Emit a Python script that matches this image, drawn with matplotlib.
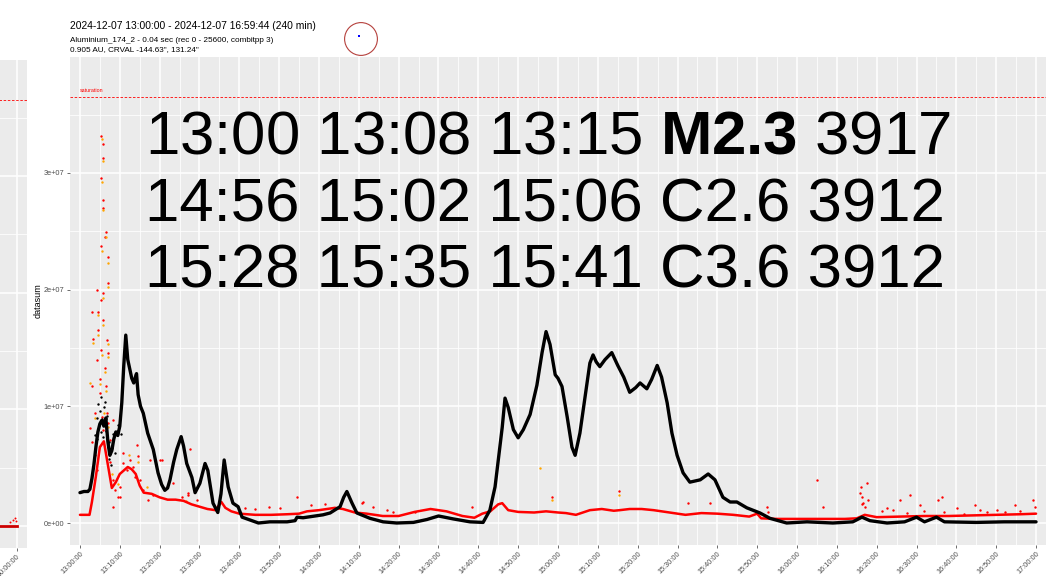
import numpy as np
import matplotlib.pyplot as plt
from matplotlib.patches import Circle
from matplotlib.ticker import MultipleLocator, FuncFormatter

plt.rcParams['font.family'] = ['Liberation Sans', 'DejaVu Sans']
plt.rcParams['mathtext.fontset'] = 'custom'
plt.rcParams['mathtext.rm'] = 'Liberation Sans'
plt.rcParams['mathtext.bf'] = 'Liberation Sans:bold'

# minutes after 13:00, datasum in units of 1e6
black_t = [0, 1, 2, 2.5, 3, 3.5, 4, 4.5, 5, 5.5, 6, 6.5, 7, 7.5, 8, 8.5, 9, 9.5, 10, 10.5,
           11, 11.5, 12, 12.5, 13, 13.5, 14, 14.2, 14.6, 15.2, 15.9, 17, 18.4, 19.6, 20.5, 21.3,
           22, 22.6, 23.5, 24.3, 25.4, 26, 26.8, 28.1, 28.9, 30.1, 31.4, 32.1, 33.4, 34.6, 35.4,
           36.2, 37.2, 38.4, 39.7, 40.7, 42.7, 44.8, 47.7, 52, 54, 54.5, 56, 61, 62.8, 65.3, 66.2,
           67, 68.3, 69.5, 72.8, 76.1, 79.5, 83.7, 87.1, 90, 93.7, 97.9, 101.2, 102.9, 104.2, 105,
           106, 106.7, 107.5, 108.8, 110, 111.3, 113, 114.7, 116, 117, 118, 119.3, 120, 121, 122.3,
           123.5, 124.3, 125.5, 126.8, 128, 128.8, 129.6, 130.5, 131.8, 133.5, 135, 136.5, 138,
           139.5, 140.6, 142.3, 143.5, 144.9, 146, 147.4, 148.6, 149.9, 151.4, 153.1, 155.7, 157.7,
           159.4, 161.4, 163.2, 164.9, 167.4, 170.7, 173.2, 177.4, 182.5, 189, 194, 196.3, 198.3,
           202.6, 207, 210, 212, 215, 217, 225, 232, 240]
black_v = [2.6, 2.7, 2.7, 2.9, 3.8, 5.0, 6.5, 7.8, 8.5, 8.8, 8.3, 9.0, 7.0, 5.8, 6.2, 7.2, 7.8, 7.5, 8.3, 10.3,
           13.5, 16.1, 14.0, 13.2, 12.4, 12.0, 12.6, 12.8, 11.0, 10.0, 9.4, 7.7, 6.3, 4.3, 3.3, 2.8,
           3.0, 3.7, 5.2, 6.3, 7.4, 6.6, 5.1, 3.9, 2.6, 3.4, 5.1, 4.5, 1.7, 0.9, 2.5,
           5.4, 3.1, 1.7, 1.4, 0.5, 0.26, 0.0, 0.1, 0.1, 0.2, 0.5, 0.45, 0.7, 0.86, 1.4, 2.2,
           2.7, 1.7, 0.86, 0.4, 0.1, 0.0, 0.05, 0.3, 0.6, 0.35, 0.1, 0.05, 1.1, 3.1, 5.4,
           8.2, 10.7, 9.9, 8.0, 7.3, 8.0, 9.3, 11.8, 14.6, 16.4, 15.3, 12.7, 12.4, 11.7, 9.1,
           6.5, 5.8, 7.7, 10.8, 13.7, 14.4, 13.8, 13.4, 14.0, 14.6, 13.5, 12.5, 11.2,
           11.6, 12.0, 11.5, 12.3, 13.5, 12.5, 10.3, 7.7, 5.8, 4.3, 3.5, 3.7, 4.2,
           3.7, 2.2, 1.8, 1.8, 1.3, 0.86, 0.4, 0.0, 0.1, 0.0, 0.1, 0.5, 0.2,
           0.0, 0.1, 0.5, 0.1, 0.5, 0.1, 0.05, 0.1, 0.1]

black_noise_t = [3.8, 4.2, 4.4, 4.6, 4.8, 5.0, 5.2, 5.4, 5.6, 5.8, 6.0, 6.2, 6.4, 6.6, 6.8,
                 7.0, 7.2, 7.4, 7.7, 8.0, 8.3, 8.7, 9.2, 9.6, 10.2]
black_noise_v = [7.5, 9.0, 7.2, 10.2, 8.4, 9.6, 7.8, 10.8, 8.9, 7.4, 9.9, 8.6, 10.4, 7.9, 9.2,
                 6.5, 5.5, 6.9, 5.0, 6.4, 7.6, 6.0, 7.9, 8.4, 7.6]

red_t = [0, 2.4, 3, 4, 5, 6, 7, 8, 9, 10, 11, 12, 13, 14, 15, 16, 18, 20, 22, 24, 26, 28, 30,
         32, 34, 35.5, 36.5, 38, 40, 44, 48, 52, 55, 57, 60, 62, 64, 66, 69, 72, 76, 80, 84, 88,
         92, 96, 99, 101, 103, 105, 106, 107.5, 110, 114, 117, 120, 122, 124.5, 128, 131, 134,
         135.5, 138, 141, 144, 148, 152, 156, 160, 164, 168, 170, 171, 175, 180, 186, 192, 195,
         197, 200, 206, 212, 218, 224, 230, 236, 240]
red_v = [0.7, 0.7, 1.8, 4.0, 6.5, 7.0, 5.0, 3.0, 3.5, 4.2, 4.5, 4.8, 4.6, 4.2, 3.2, 2.6, 2.5, 2.2, 2.0, 2.0, 1.9, 1.6, 1.4,
         1.2, 1.1, 1.8, 1.3, 1.0, 0.8, 0.7, 0.7, 0.75, 0.8, 1.0, 1.1, 1.2, 1.3, 1.2, 0.9, 0.8, 0.6, 0.6, 0.95, 1.2,
         1.0, 0.6, 0.45, 0.8, 1.0, 1.6, 1.7, 1.1, 0.95, 0.9, 1.0, 0.9, 0.85, 0.7, 1.1, 1.2, 1.05,
         1.1, 1.2, 1.2, 1.1, 0.9, 0.7, 0.85, 0.8, 0.7, 0.55, 0.8, 0.4, 0.35, 0.35, 0.35, 0.35, 0.4,
         0.7, 0.5, 0.55, 0.6, 0.6, 0.65, 0.7, 0.75, 0.8]

# scattered red points: flare burst, early cloud and later outliers
red_pts_t = [5.4, 5.8, 5.8, 5.4, 5.8, 5.8, 6.5, 6.2, 5.4, 7.0, 7.0, 4.4, 5.8, 5.2, 3.1, 4.5, 5.8,
             4.5, 3.2, 6.8, 7.0, 5.4, 4.2, 6.2, 2.9, 5.0, 6.5, 3.8, 8.3, 7.5, 10.8, 14.3, 17.6,
             20.6, 8.3, 10.0,
             2.5, 2.9, 3.8, 4.3, 5.0, 5.5, 5.8, 6.8, 7.0, 7.5, 8.3, 8.8, 9.5, 10.0, 10.8, 11.8,
             12.6, 13.3, 13.8, 14.6, 15.1, 15.8, 17.1, 18.3, 20.1, 21.8, 23.3, 25.6, 27.1, 27.6,
             29.4,
             27.1, 41.5, 44.0, 47.5, 50.2, 54.5, 58.0, 61.5, 70.8, 71.0, 73.5, 77.1, 78.6, 84.1,
             98.4, 118.5, 135.3, 152.7, 158.2, 172.5,
             172.6, 185.0, 186.6, 195.8, 196.0, 196.2, 196.3, 196.6, 197.0, 197.6, 197.8, 201.3,
             202.6, 204.0, 205.9, 207.6, 208.4, 210.9, 212.0, 215.4, 216.4, 217.0, 220.2, 222.0,
             224.7, 226.0, 227.7, 230.2, 232.3, 234.7, 236.0, 239.3, 239.8]
red_pts_v = [33.2, 32.5, 31.3, 29.6, 27.7, 27.0, 24.9, 24.5, 23.7, 22.8, 20.6, 20.0, 19.7, 19.1, 18.1, 18.1, 17.4,
             16.5, 15.8, 15.7, 14.6, 14.8, 14.0, 13.3, 11.7, 12.3, 11.7, 9.4, 8.8, 7.1, 6.0, 6.7, 5.4,
             5.4, 1.4, 2.2,
             8.1, 6.9, 5.8, 4.5, 11.1, 9.1, 8.0, 9.4, 8.6, 5.2, 3.7, 2.8, 2.2, 3.1, 5.1, 4.5,
             5.4, 4.8, 3.9, 5.7, 3.7, 2.8, 2.0, 2.4, 5.4, 3.1, 3.4, 2.2, 2.6, 6.3,
             2.0,
             2.4, 1.3, 1.2, 1.4, 1.3, 2.2, 1.5, 1.6, 1.7, 1.8, 1.4, 1.1, 0.94, 0.94,
             1.4, 2.2, 2.7, 1.7, 1.7, 1.4,
             0.9, 3.7, 1.4, 2.6, 3.1, 2.2, 1.6, 1.7, 1.4, 3.4, 2.0, 1.0,
             1.3, 1.1, 2.0, 0.86, 2.4, 1.5, 1.0, 2.0, 2.2, 0.9, 1.3, 0.8,
             1.5, 1.1, 0.9, 1.1, 0.9, 1.5, 1.0, 2.0, 1.4]

orange_t = [5.5, 5.9, 5.5, 5.9, 6.6, 5.5, 7.1, 7.1, 5.9, 4.6, 5.9, 4.6, 3.3, 7.1, 7.1, 5.5, 6.3,
            5.1, 6.6, 3.9, 2.6, 6.0, 7.0, 8.0, 9.6, 12.2, 14.6, 115.5, 118.5, 135.2, 26.5, 16.9]
orange_v = [32.9, 31.0, 29.2, 26.8, 24.5, 23.3, 22.3, 20.2, 19.3, 17.8, 17.0, 16.1, 15.4, 15.3, 14.2, 14.4, 12.9,
            11.9, 11.3, 9.0, 12.0, 9.4, 8.2, 4.2, 3.3, 5.8, 5.2, 4.7, 2.0, 2.4, 1.9, 3.1]

# earlier panel (only its last stretch is visible)
prev_line_t = [-317, 0]
prev_line_v = [0.0, 0.0]
prev_pts_t = [-7, -4.3, -2, -1]
prev_pts_v = [0.34, 0.5, 0.68, 0.43]

saturation = 36.5

W, H = 1050, 576
BG = '#EBEBEB'
TXT = '#4D4D4D'


def box(x0, y0, x1, y1):
    return [x0 / W, 1 - y1 / H, (x1 - x0) / W, (y1 - y0) / H]


def to_e6(vals):
    return np.array(vals) * 1e6


def clock(m, pos=None):
    m = int(round(m))
    return "%02d:%02d:00" % (13 + m // 60, m % 60)


def style_panel(ax):
    ax.set_facecolor(BG)
    for s in ax.spines.values():
        s.set_visible(False)
    ax.yaxis.set_major_locator(MultipleLocator(1e7))
    ax.yaxis.set_minor_locator(MultipleLocator(5e6))
    ax.grid(which='major', color='white', lw=1.1)
    ax.grid(which='minor', color='white', lw=0.55)
    ax.set_axisbelow(True)
    ax.tick_params(which='major', length=2.5, width=0.5, color='#333333', labelsize=5.3,
                   labelcolor=TXT, pad=1.5)
    ax.tick_params(which='minor', length=0)
    ax.set_ylim(-1.885e6, 3.993e7)


fig = plt.figure(figsize=(W / 100, H / 100), dpi=100)

# earlier panel at the left edge
axl = fig.add_axes(box(-300, 60, 27, 548))
style_panel(axl)
axl.set_xlim(-317, 10)
axl.set_xticks([0])
axl.set_xticklabels(['00:00:00'])
axl.set_yticklabels([])
axl.tick_params(axis='y', length=0)
plt.setp(axl.get_xticklabels(), rotation=45, ha='right', rotation_mode='anchor')
axl.axhline(saturation * 1e6, color='red', lw=0.6, ls=(0, (3, 2)))
axl.plot(prev_line_t, to_e6(prev_line_v), color='#CC0000', lw=2)
axl.scatter(prev_pts_t, to_e6(prev_pts_v), s=2, color='red', lw=0)

# main panel
ax = fig.add_axes(box(70, 57, 1046, 545))
style_panel(ax)
ax.set_xlim(-2.5, 242.5)
ax.xaxis.set_major_locator(MultipleLocator(10))
ax.xaxis.set_minor_locator(MultipleLocator(5))
ax.xaxis.set_major_formatter(FuncFormatter(clock))
ax.yaxis.set_major_formatter(FuncFormatter(lambda v, p: "%.0e" % v))
plt.setp(ax.get_xticklabels(), rotation=45, ha='right', rotation_mode='anchor')
ax.set_ylabel('datasum', fontsize=6.5, color='black', labelpad=1)

ax.axhline(saturation * 1e6, color='red', lw=0.6, ls=(0, (3, 2)))
ax.text(0, 36.9e6, 'saturation', color='red', fontsize=3.8, va='baseline')

ax.plot(red_t, to_e6(red_v), color='red', lw=1.8, solid_capstyle='round')
ax.scatter(red_pts_t, to_e6(red_pts_v), s=3, color='red', lw=0)
ax.scatter(orange_t, to_e6(orange_v), s=3, color='#FFA500', lw=0)
ax.plot(black_t, to_e6(black_v), color='black', lw=2.4, solid_capstyle='round')
ax.scatter(black_noise_t, to_e6(black_noise_v), s=3, color='black', lw=0)

# header
fig.text(70 / W, 1 - 29 / H, '2024-12-07 13:00:00 - 2024-12-07 16:59:44 (240 min)',
         fontsize=7.4, va='baseline')
fig.text(70 / W, 1 - 42.5 / H, 'Aluminium_174_2 - 0.04 sec (rec 0 - 25600, combitpp 3)',
         fontsize=5.9, va='baseline')
fig.text(70 / W, 1 - 51 / H, '0.905 AU, CRVAL -144.63", 131.24"',
         fontsize=5.9, va='baseline')

axc = fig.add_axes(box(339, 17, 383, 61))
axc.set_xlim(-1.1, 1.1)
axc.set_ylim(-1.1, 1.1)
axc.set_aspect('equal')
axc.axis('off')
axc.add_patch(Circle((0, 0), 0.82, fill=False, ec='#B5403C', lw=0.8))
axc.plot([-0.08], [0.14], marker='s', ms=1.6, color='blue', mew=0)

# event list
lines = ['13:00 13:08 13:15 $\\mathbf{M2.3}$ 3917',
         '14:56 15:02 15:06 C2.6 3912',
         '15:28 15:35 15:41 C3.6 3912']
for i, s in enumerate(lines):
    fig.text(145 / W, 1 - (154 + 67 * i) / H, s, fontsize=44.5, va='baseline')

fig.savefig('out.png', dpi=100)
